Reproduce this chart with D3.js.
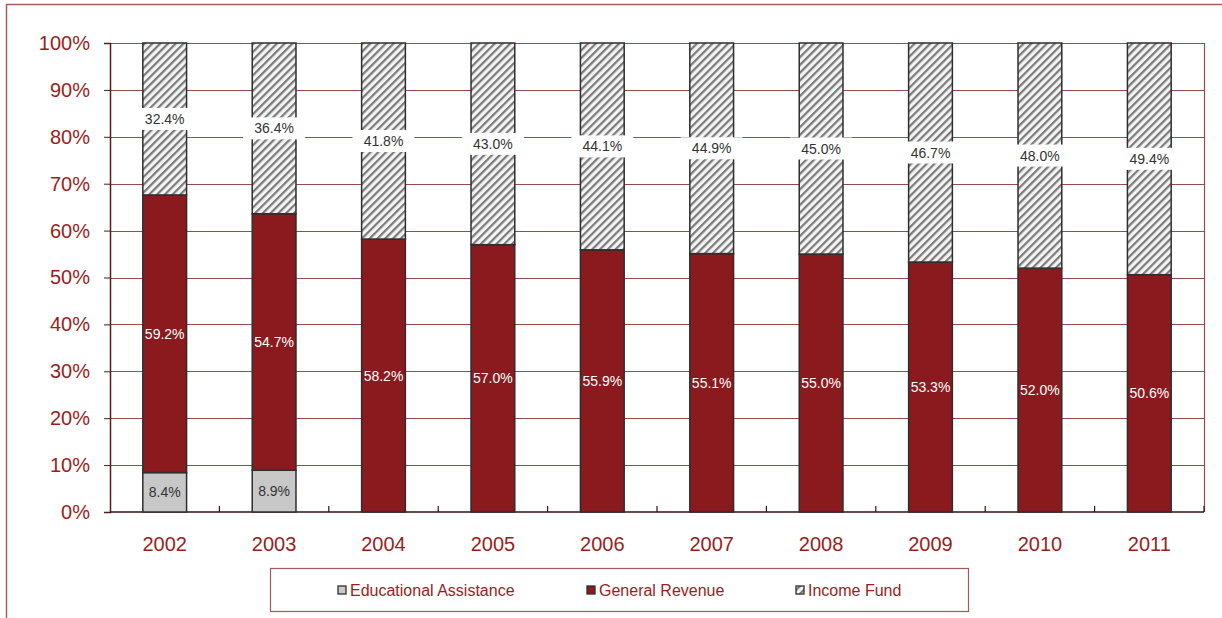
<!DOCTYPE html>
<html><head><meta charset="utf-8">
<script src="https://cdn.jsdelivr.net/npm/d3@7"></script>
<style>
body{margin:0;background:#fff;}
svg{display:block;font-family:"Liberation Sans",Arial,sans-serif;}
</style></head>
<body><svg id="c" width="1222" height="618"></svg>
<script>
const years = ["2002","2003","2004","2005","2006","2007","2008","2009","2010","2011"];
const educationalAssistance = [8.4, 8.9, 0, 0, 0, 0, 0, 0, 0, 0];
const generalRevenue = [59.2, 54.7, 58.2, 57.0, 55.9, 55.1, 55.0, 53.3, 52.0, 50.6];
const incomeFund = [32.4, 36.4, 41.8, 43.0, 44.1, 44.9, 45.0, 46.7, 48.0, 49.4];
const yTicks = [0,10,20,30,40,50,60,70,80,90,100];
const seriesNames = ["Educational Assistance","General Revenue","Income Fund"];

const svg = d3.select("#c");
const red = "#9a1d22", barRed = "#8b1a1e", grid = "#9b4a4a";
const L = 110, R = 1204, T = 43, B = 512;

// pattern
const defs = svg.append("defs");
const pat = defs.append("pattern").attr("id","hatch").attr("patternUnits","userSpaceOnUse")
  .attr("width",5.5).attr("height",5.5).attr("patternTransform","rotate(45)");
pat.append("rect").attr("width",5.5).attr("height",5.5).attr("fill","#f4f4f4");
pat.append("rect").attr("x",0).attr("width",2.2).attr("height",5.5).attr("fill","#7a7a7a");

// outer frame
svg.append("line").attr("x1",6).attr("x2",1222).attr("y1",4.5).attr("y2",4.5).attr("stroke","#a85c5c").attr("stroke-width",1.5);
svg.append("line").attr("x1",6.5).attr("x2",6.5).attr("y1",4).attr("y2",618).attr("stroke","#a85c5c").attr("stroke-width",1.5);

const x = d3.scaleBand().domain(years).range([L,R]).paddingInner(0.6).paddingOuter(0.3);
const y = d3.scaleLinear().domain([0,100]).range([B,T]);

// gridlines
svg.append("g").selectAll("line").data(yTicks.filter(d=>d>0)).join("line")
  .attr("x1",L).attr("x2",R).attr("y1",d=>Math.round(y(d))+0.5).attr("y2",d=>Math.round(y(d))+0.5)
  .attr("stroke",grid).attr("stroke-width",1);
// right border
svg.append("line").attr("x1",R+0.5).attr("x2",R+0.5).attr("y1",T).attr("y2",B).attr("stroke",grid).attr("stroke-width",1.2);

// y axis
const yAxis = svg.append("g").attr("transform",`translate(${L},0)`)
  .call(d3.axisLeft(y).tickValues(yTicks).tickFormat(d=>d+"%").tickSize(6).tickPadding(14));
yAxis.select(".domain").attr("stroke","#5a1a1a").attr("stroke-width",1.5);
yAxis.selectAll(".tick line").attr("stroke","#5a1a1a");
yAxis.selectAll("text").attr("fill",red).attr("font-size",20).attr("font-family","Liberation Sans, Arial, sans-serif");

// x axis
const xb = d3.scaleLinear().domain([0,10]).range([L,R]);
const xAxisG = svg.append("g").attr("transform",`translate(0,${B})`);
xAxisG.append("line").attr("x1",L).attr("x2",R).attr("stroke","#3a1010").attr("stroke-width",1.5);
xAxisG.selectAll(".tk").data(d3.range(1,11)).join("line").attr("class","tk")
  .attr("x1",d=>xb(d)).attr("x2",d=>xb(d)).attr("y1",0).attr("y2",-6).attr("stroke","#3a1010").attr("stroke-width",1.2);
xAxisG.selectAll("text").data(years).join("text")
  .attr("x",d=>x(d)+x.bandwidth()/2).attr("y",39).attr("text-anchor","middle")
  .attr("fill",red).attr("font-size",20).text(d=>d);

// stacks
const rows = years.map((yr,i)=>({year:yr, ea:educationalAssistance[i], gr:generalRevenue[i], inc:incomeFund[i]}));
const stack = d3.stack().keys(["ea","gr","inc"])(rows);
const fills = {ea:"#c8c8c8", gr:barRed, inc:"url(#hatch)"};
const g = svg.append("g");
stack.forEach(s=>{
  g.selectAll(null).data(s.filter(d=>d[1]-d[0]>0)).join("rect")
    .attr("x",d=>x(d.data.year)).attr("width",x.bandwidth())
    .attr("y",d=>y(d[1])).attr("height",d=>y(d[0])-y(d[1]))
    .attr("fill",fills[s.key]).attr("stroke","#2e2e2e").attr("stroke-width",1.5);
});

// labels
const lab = svg.append("g").attr("font-size",14);
stack.forEach(s=>{
  s.filter(d=>d[1]-d[0]>0).forEach(d=>{
    const cx = x(d.data.year)+x.bandwidth()/2, cy = y((d[0]+d[1])/2);
    const txt = d.data[s.key].toFixed(1)+"%";
    if(s.key==="inc"){
      lab.append("rect").attr("x",cx-31).attr("y",cy-11).attr("width",62).attr("height",22).attr("fill","#fff");
    }
    lab.append("text").attr("x",cx).attr("y",cy).attr("dy","0.36em").attr("text-anchor","middle")
      .attr("fill", s.key==="gr" ? "#fff" : "#333").text(txt);
  });
});

// legend
const lg = svg.append("g");
lg.append("rect").attr("x",270.5).attr("y",568.5).attr("width",698).attr("height",43).attr("fill","#fff").attr("stroke","#a05a5a").attr("stroke-width",1.2);
const legX = [338,587,796];
const legFill = ["#c8c8c8", barRed, "url(#hatch)"];
seriesNames.forEach((n,i)=>{
  lg.append("rect").attr("x",legX[i]).attr("y",586).attr("width",8).attr("height",8).attr("fill",legFill[i]).attr("stroke","#2e2e2e").attr("stroke-width",1.3);
  lg.append("text").attr("x",legX[i]+12).attr("y",590).attr("dy","0.35em").attr("fill",red).attr("font-size",16).text(n);
});
</script></body></html>
